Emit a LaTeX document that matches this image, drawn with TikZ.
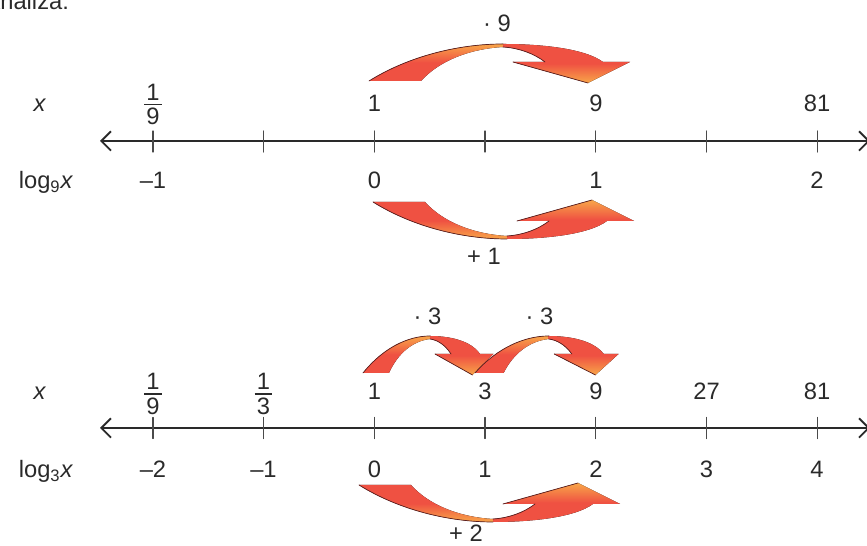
\documentclass[tikz,border=0pt]{standalone}
\usepackage{fontspec}
\setmainfont{Liberation Sans}
\usetikzlibrary{arrows.meta}
\definecolor{arrowred}{HTML}{EF5142}
\definecolor{arroworange}{HTML}{F8A649}
\definecolor{arrowedge}{HTML}{5C1F1F}
\definecolor{txt}{HTML}{2A2A2A}
\newcommand\frc[2]{\vbox{\offinterlineskip\halign{\hskip1.3pt\hfil##\hfil\hskip1.3pt\cr
  #1\cr\noalign{\kern2pt\hrule height0.8pt\kern1.8pt}#2\cr}}}
\tikzset{
  arrowleft/.style={top color=arroworange,bottom color=arrowred,middle color=arrowred},
  arrowright/.style={top color=arrowred,bottom color=arroworange,middle color=arrowred},
  flipped/.style={yscale=-1,
    arrowleft/.style={top color=arrowred,bottom color=arroworange,middle color=arrowred},
    arrowright/.style={top color=arroworange,bottom color=arrowred,middle color=arrowred}},
  pics/arcarrow/.style={code={
    \fill[arrowleft]
      (0,0) .. controls (0.8,0.5) and (1.8,0.74) .. (2.68,0.74)
      -- (2.68,0.68) .. controls (2.0,0.64) and (1.4,0.4) .. (1.04,0) -- cycle;
    \fill[arrowright]
      (2.68,0.74) .. controls (3.4,0.74) and (4.3,0.66) .. (4.68,0.38)
      -- (5.22,0.38) -- (4.38,-0.04) -- (2.88,0.38) -- (3.52,0.38)
      .. controls (3.3,0.55) and (3.0,0.66) .. (2.68,0.68) -- cycle;
    \draw[arrowedge,line width=0.4pt] (0,0) .. controls (0.8,0.5) and (1.8,0.74) .. (2.68,0.74);
    \draw[arrowedge,line width=0.4pt] (3.52,0.38) .. controls (3.3,0.55) and (3.0,0.66) .. (2.68,0.68);
    \draw[arrowedge,line width=0.4pt] (2.88,0.38) -- (4.38,-0.04);
  }}
}
\begin{document}
\begin{tikzpicture}[line cap=round,>={Straight Barb[length=5.5pt,width=11pt]},
  axis/.style={line width=1.1pt,txt,<->},
  tick/.style={line width=0.7pt,txt!85},
  lbl/.style={text=txt,font=\fontsize{13.5}{16}\selectfont,inner sep=0pt}]
  \useasboundingbox (0,0) rectangle (17.34,10.92);
  \node[lbl,anchor=base west] (head) at (0,10.72) {\llap{A}naliza:};
  % x and log_9 x
  \coordinate (a0) at (2.0,8.1);
  \coordinate (a9) at (17.4,8.1);
  \draw[axis] (a0) -- (a9);
  \foreach \t in {0,...,6}
    \draw[tick] ({3.06+2.214*\t},7.88) -- ++(0,0.42);
  \node[lbl,anchor=base] (xa) at (0.8,8.68) {\textit{x}};
  \node[lbl] (ua1) at (3.06,8.83) {\frc{1}{9}};
  \node[lbl,anchor=base] (ua3) at (7.49,8.68) {1};
  \node[lbl,anchor=base] (ua5) at (11.92,8.68) {9};
  \node[lbl,anchor=base] (ua7) at (16.34,8.68) {81};
  \node[lbl,anchor=base] (la) at (0.92,7.14) {log\textsubscript{9}\textit{x}};
  \node[lbl,anchor=base] (da1) at (3.06,7.14) {–1};
  \node[lbl,anchor=base] (da3) at (7.49,7.14) {0};
  \node[lbl,anchor=base] (da5) at (11.92,7.14) {1};
  \node[lbl,anchor=base] (da7) at (16.34,7.14) {2};
  \pic (mulnine) at (7.38,9.30) {arcarrow};
  \node[lbl,anchor=base] (mna) at (9.94,10.28) {· 9};
  \pic[flipped] (addone) at (7.46,6.88) {arcarrow};
  \node[lbl,anchor=base] (ado) at (9.68,5.62) {+ 1};
  % x and log_3 x
  \coordinate (b0) at (2.0,2.36);
  \coordinate (b9) at (17.4,2.36);
  \draw[axis] (b0) -- (b9);
  \foreach \t in {0,...,6}
    \draw[tick] ({3.06+2.214*\t},2.15) -- ++(0,0.42);
  \node[lbl,anchor=base] (xb) at (0.8,2.92) {\textit{x}};
  \node[lbl] (ub1) at (3.06,3.04) {\frc{1}{9}};
  \node[lbl] (ub2) at (5.27,3.04) {\frc{1}{3}};
  \node[lbl,anchor=base] (ub3) at (7.49,2.92) {1};
  \node[lbl,anchor=base] (ub4) at (9.70,2.92) {3};
  \node[lbl,anchor=base] (ub5) at (11.92,2.92) {9};
  \node[lbl,anchor=base] (ub6) at (14.13,2.92) {27};
  \node[lbl,anchor=base] (ub7) at (16.34,2.92) {81};
  \node[lbl,anchor=base] (lb) at (0.92,1.36) {log\textsubscript{3}\textit{x}};
  \node[lbl,anchor=base] (db1) at (3.06,1.36) {–2};
  \node[lbl,anchor=base] (db2) at (5.27,1.36) {–1};
  \node[lbl,anchor=base] (db3) at (7.49,1.36) {0};
  \node[lbl,anchor=base] (db4) at (9.70,1.36) {1};
  \node[lbl,anchor=base] (db5) at (11.92,1.36) {2};
  \node[lbl,anchor=base] (db6) at (14.13,1.36) {3};
  \node[lbl,anchor=base] (db7) at (16.34,1.36) {4};
  \pic[xscale=0.5] (multhreea) at (7.26,3.46) {arcarrow};
  \pic[xscale=0.55] (multhreeb) at (9.50,3.46) {arcarrow};
  \node[lbl,anchor=base] (mta) at (8.55,4.42) {· 3};
  \node[lbl,anchor=base] (mtb) at (10.79,4.42) {· 3};
  \pic[flipped] (addtwo) at (7.18,1.22) {arcarrow};
  \node[lbl,anchor=base] (adt) at (9.32,0.08) {+ 2};
\end{tikzpicture}
\end{document}
